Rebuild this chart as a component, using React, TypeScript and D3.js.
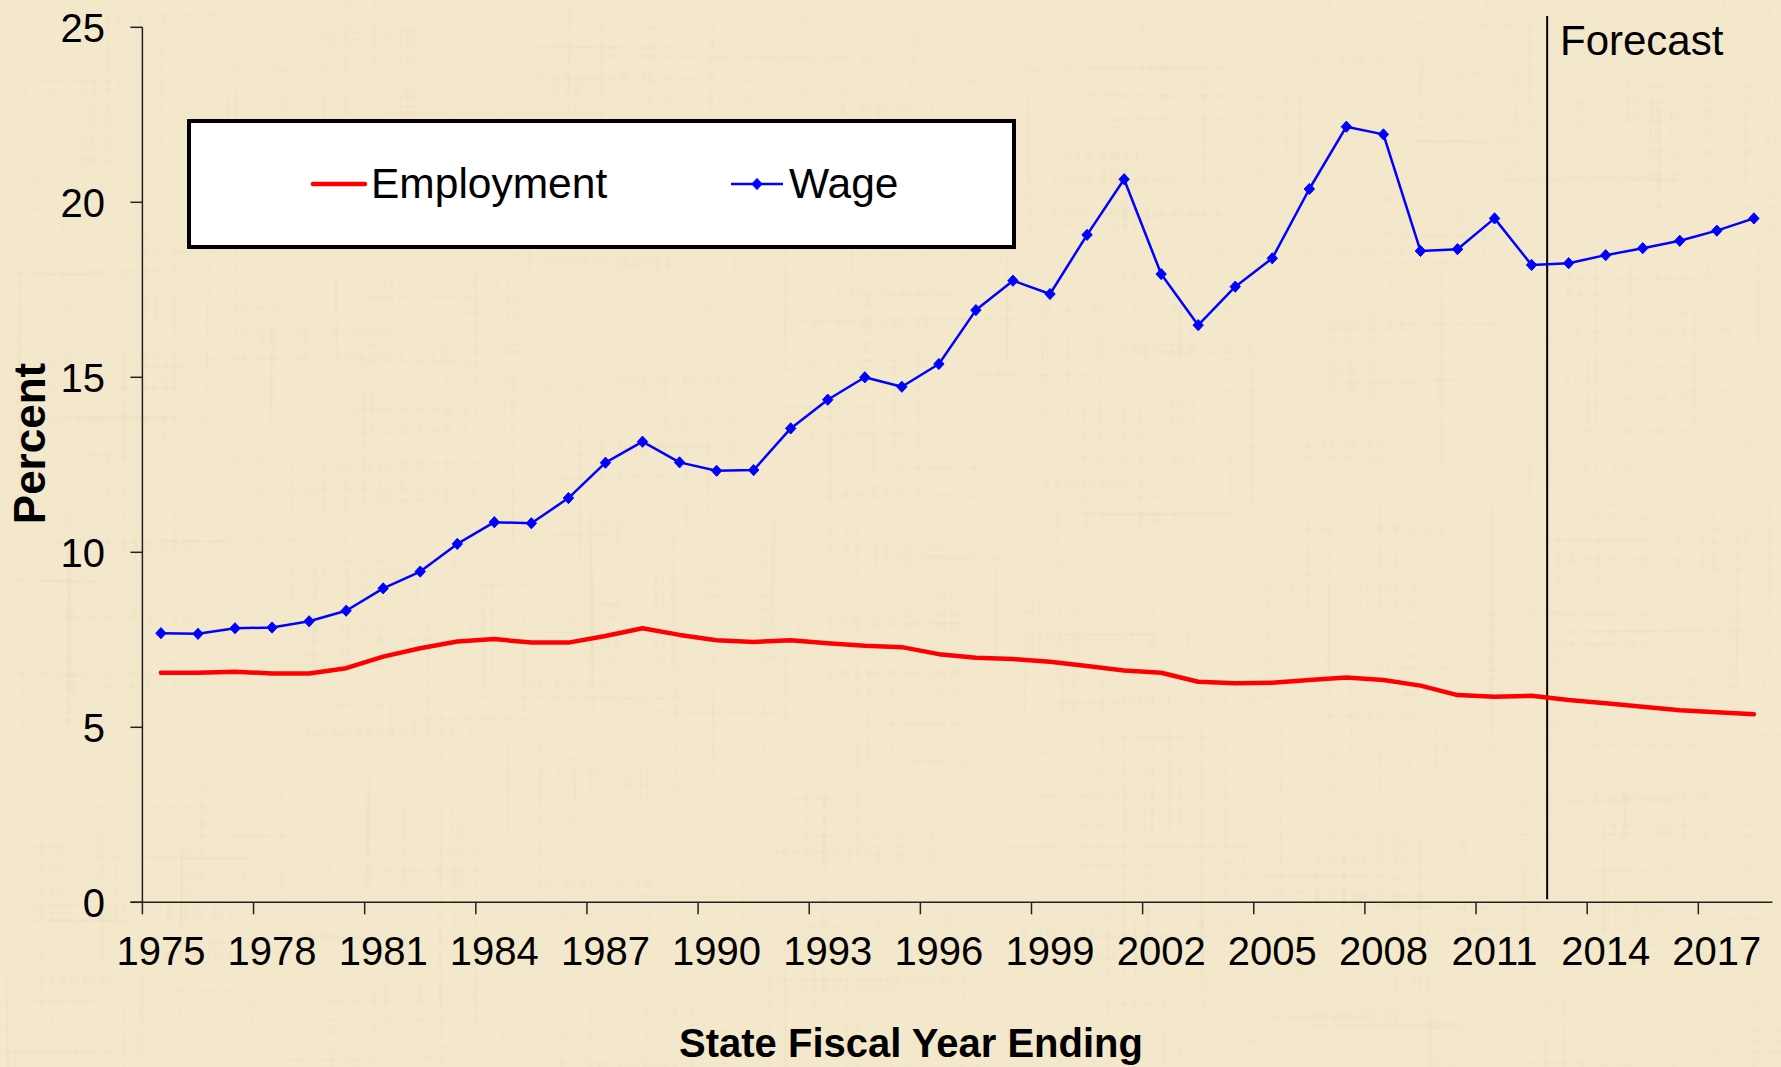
import React from "react";
import * as d3 from "d3";

const years: number[] = [
  1975, 1976, 1977, 1978, 1979, 1980, 1981, 1982, 1983, 1984, 1985, 1986,
  1987, 1988, 1989, 1990, 1991, 1992, 1993, 1994, 1995, 1996, 1997, 1998,
  1999, 2000, 2001, 2002, 2003, 2004, 2005, 2006, 2007, 2008, 2009, 2010,
  2011, 2012, 2013, 2014, 2015, 2016, 2017, 2018,
];

const employment: number[] = [
  6.56, 6.56, 6.59, 6.54, 6.54, 6.69, 7.02, 7.26, 7.45, 7.52, 7.42, 7.42,
  7.61, 7.83, 7.64, 7.49, 7.44, 7.49, 7.4, 7.33, 7.29, 7.09, 6.99, 6.95,
  6.87, 6.75, 6.62, 6.56, 6.3, 6.26, 6.27, 6.35, 6.42, 6.35, 6.19, 5.92,
  5.87, 5.9, 5.78, 5.69, 5.59, 5.49, 5.43, 5.37,
];

const wage: number[] = [
  7.69, 7.67, 7.83, 7.85, 8.03, 8.33, 8.97, 9.45, 10.24, 10.86, 10.83, 11.55,
  12.56, 13.16, 12.57, 12.33, 12.35, 13.54, 14.36, 15.0, 14.73, 15.38, 16.92, 17.76,
  17.38, 19.07, 20.66, 17.95, 16.49, 17.59, 18.4, 20.38, 22.16, 21.94, 18.61, 18.66,
  19.54, 18.21, 18.26, 18.49, 18.69, 18.9, 19.19, 19.54,
];

const xTickYears: number[] = [1975, 1978, 1981, 1984, 1987, 1990, 1993, 1996, 1999, 2002, 2005, 2008, 2011, 2014, 2017];
const yTicks: number[] = [0, 5, 10, 15, 20, 25];
const seriesNames: string[] = ["Employment", "Wage"];
const forecastYear = 2012;
const forecastLabel = "Forecast";
const xTitle = "State Fiscal Year Ending";
const yTitle = "Percent";

const W = 1781;
const H = 1067;
const FONT = "'Liberation Sans', Arial, Helvetica, sans-serif";

export default function App() {
  const left = 142.4;
  const right = 1772.4;
  const top = 27.3;
  const bottom = 902.3;

  const x = d3.scaleBand<number>().domain(years).range([left, right]).padding(0);
  const bw = x.bandwidth();
  const cx = (yr: number) => (x(yr) as number) + bw / 2;
  const y = d3.scaleLinear().domain([0, 25]).range([bottom, top]);

  const line = d3
    .line<number>()
    .x((_, i) => cx(years[i]))
    .y((d) => y(d));

  const fx = (x(forecastYear) as number) + bw * 0.92;

  const diamond = (px: number, py: number) =>
    `M${px},${py - 5.6}L${px + 5.2},${py}L${px},${py + 5.6}L${px - 5.2},${py}Z`;

  return (
    <svg
      width={W}
      height={H}
      viewBox={`0 0 ${W} ${H}`}
      style={{ position: "absolute", left: 0, top: 0, display: "block" }}
      fontFamily={FONT}
    >
      <defs>
        <filter id="tex" x="0" y="0" width="100%" height="100%">
          <feTurbulence type="fractalNoise" baseFrequency="0.004 0.18" numOctaves={2} seed={3} result="h" />
          <feTurbulence type="fractalNoise" baseFrequency="0.18 0.004" numOctaves={2} seed={9} result="v" />
          <feBlend in="h" in2="v" mode="multiply" result="n" />
          <feColorMatrix
            in="n"
            type="matrix"
            values="0 0 0 0 0.6  0 0 0 0 0.5  0 0 0 0 0.3  -0.8 0 0 0 0.28"
          />
        </filter>
      </defs>
      <rect x={0} y={0} width={W} height={H} fill="#f4e8cc" />
      <rect x={0} y={0} width={W} height={H} fill="#fff" filter="url(#tex)" />

      {/* Y axis */}
      <line x1={left} x2={left} y1={top} y2={bottom} stroke="#222" strokeWidth={1.5} />
      {yTicks.map((t) => (
        <g key={t}>
          <line x1={left - 12} x2={left} y1={y(t)} y2={y(t)} stroke="#222" strokeWidth={1.5} />
          <text x={105} y={y(t)} dy="0.36em" textAnchor="end" fontSize={40} fill="#000">
            {t}
          </text>
        </g>
      ))}

      {/* X axis */}
      <line x1={left - 12} x2={right} y1={bottom} y2={bottom} stroke="#222" strokeWidth={1.5} />
      {xTickYears.map((yr) => (
        <g key={yr}>
          <line
            x1={x(yr) as number}
            x2={x(yr) as number}
            y1={bottom}
            y2={bottom + 12}
            stroke="#222"
            strokeWidth={1.5}
          />
          <text x={cx(yr)} y={965} textAnchor="middle" fontSize={40} fill="#000">
            {yr}
          </text>
        </g>
      ))}

      {/* Axis titles */}
      <text x={911} y={1057} textAnchor="middle" fontSize={40} fontWeight="bold" fill="#000">
        {xTitle}
      </text>
      <text
        transform={`translate(45,${443.5}) rotate(-90)`}
        textAnchor="middle"
        fontSize={44}
        fontWeight="bold"
        fill="#000"
      >
        {yTitle}
      </text>

      {/* Forecast divider */}
      <line x1={fx} x2={fx} y1={16} y2={bottom - 3} stroke="#000" strokeWidth={2} />
      <text x={1560} y={55} fontSize={42} fill="#000">
        {forecastLabel}
      </text>

      {/* Series */}
      <path
        d={line(employment) || ""}
        fill="none"
        stroke="#ff0000"
        strokeWidth={4.5}
        strokeLinejoin="round"
        strokeLinecap="round"
      />
      <path d={line(wage) || ""} fill="none" stroke="#0000ff" strokeWidth={2.5} strokeLinejoin="round" />
      {wage.map((v, i) => (
        <path key={i} d={diamond(cx(years[i]), y(v))} fill="#0000ff" stroke="#0000ff" strokeWidth={1} />
      ))}

      {/* Legend */}
      <rect x={189} y={121} width={825} height={126} fill="#fff" stroke="#000" strokeWidth={4} />
      <line x1={313} x2={365} y1={184} y2={184} stroke="#ff0000" strokeWidth={4.5} strokeLinecap="round" />
      <text x={371} y={198} fontSize={42.5} fill="#000">
        {seriesNames[0]}
      </text>
      <line x1={731} x2={783} y1={184} y2={184} stroke="#0000ff" strokeWidth={2.5} />
      <path d={diamond(757, 184)} fill="#0000ff" stroke="#0000ff" strokeWidth={1} />
      <text x={789} y={198} fontSize={42.5} fill="#000">
        {seriesNames[1]}
      </text>
    </svg>
  );
}
